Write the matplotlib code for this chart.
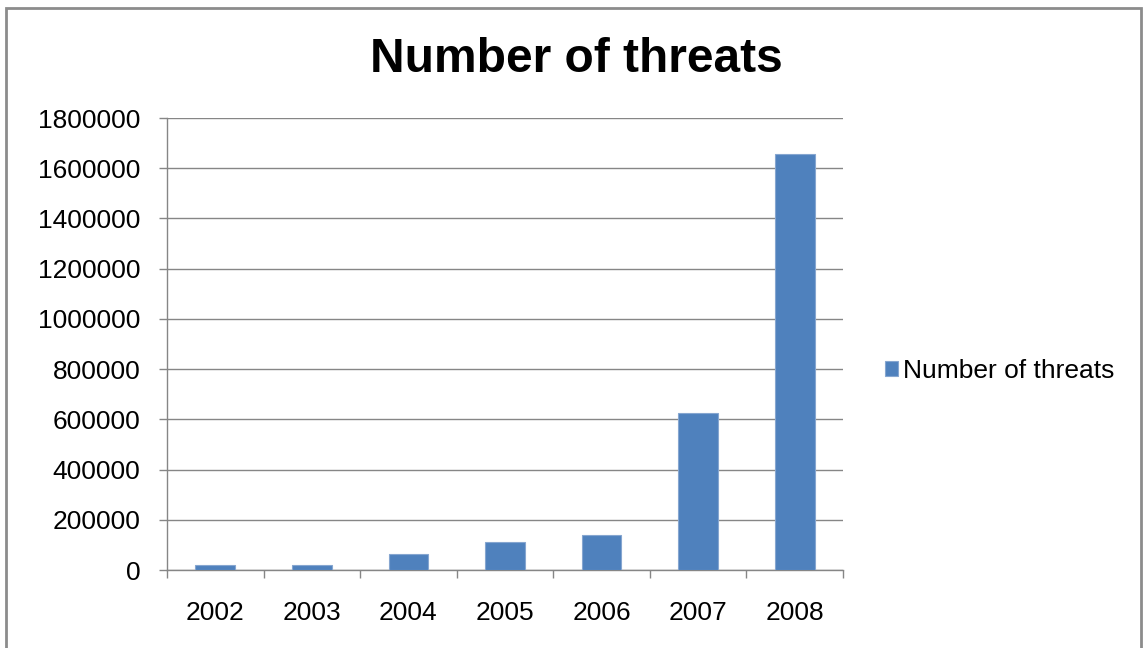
import matplotlib.pyplot as plt
from matplotlib.patches import Rectangle

years = ['2002', '2003', '2004', '2005', '2006', '2007', '2008']
threats = [19000, 19000, 65000, 110000, 141000, 626000, 1657000]
y_ticks = [0, 200000, 400000, 600000, 800000, 1000000, 1200000, 1400000, 1600000, 1800000]

plt.rcParams['font.family'] = ['Liberation Sans', 'DejaVu Sans']

bar_color = '#4f81bd'
grid_color = '#868686'

fig = plt.figure(figsize=(11.46, 6.48), dpi=100)
ax = fig.add_axes([167 / 1146, 1 - 570 / 648, 676 / 1146, 452 / 648])

x = list(range(len(years)))
ax.bar(x, threats, width=0.41, color=bar_color, edgecolor='#86a6d0', linewidth=0.8,
       label='Number of threats', zorder=3)

ax.set_xlim(-0.5, len(years) - 0.5)
ax.set_ylim(0, 1800000)
ax.set_yticks(y_ticks)
ax.set_yticklabels([str(v) for v in y_ticks])
ax.set_xticks(x)
ax.set_xticklabels(years)
ax.set_xticks([i - 0.5 for i in range(len(years) + 1)], minor=True)

ax.yaxis.grid(True, color=grid_color, linewidth=1.0, zorder=0)
ax.tick_params(axis='y', length=6, width=1, color=grid_color, pad=13, labelsize=19)
ax.tick_params(axis='x', which='major', length=0, pad=22, labelsize=19)
ax.tick_params(axis='x', which='minor', length=6, width=1, color=grid_color)

for side in ['top', 'right']:
    ax.spines[side].set_visible(False)
for side in ['left', 'bottom']:
    ax.spines[side].set_color(grid_color)
    ax.spines[side].set_linewidth(1.0)

fig.text(0.503, 1 - 59 / 648, 'Number of threats', ha='center', va='center',
         fontsize=34.5, fontweight='bold')

ax.legend(loc='center left', bbox_to_anchor=(885 / 1146, 1 - 371 / 648),
          bbox_transform=fig.transFigure, frameon=False, fontsize=19,
          handlelength=0.5, handleheight=0.5, handletextpad=0.2,
          borderpad=0, borderaxespad=0)

# outer chart border
fig.patches.append(Rectangle((6 / 1146, -0.05), 1135 / 1146, 1.05 - 8 / 648,
                             transform=fig.transFigure, fill=False,
                             edgecolor='#8c8c8c', linewidth=2))

fig.savefig('out.png', dpi=100)
